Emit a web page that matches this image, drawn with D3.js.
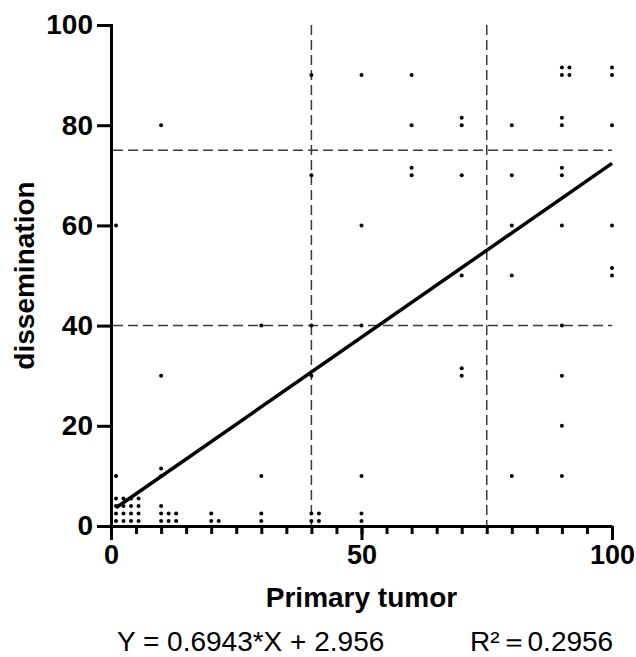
<!DOCTYPE html>
<html>
<head>
<meta charset="utf-8">
<script src="https://cdn.jsdelivr.net/npm/d3@7"></script>
<style>
  body { margin: 0; background: #fff; }
  svg { display: block; font-family: "Liberation Sans", Arial, sans-serif; }
</style>
</head>
<body>
<div id="chart"></div>
<script>
// paired values: primary tumor (%) vs dissemination (%)
const primaryTumor = [
  1, 2.5, 4, 5.5, 1, 2.5, 4, 5.5, 1, 2.5, 4, 5.5, 1, 2.5, 4, 5.5, 1, 1,
  10, 10, 10, 10, 10, 10, 10, 11.5, 11.5, 13, 13,
  20, 20, 21.5,
  30, 30, 30, 30,
  40, 40, 40, 40, 40, 40, 41.5, 41.5,
  50, 50, 50, 50, 50, 50,
  60, 60, 60, 60,
  70, 70, 70, 70, 70, 70,
  80, 80, 80, 80, 80,
  90, 90, 90, 90, 90, 90, 90, 90, 90, 90, 90, 91.5, 91.5,
  100, 100, 100, 100, 100, 100
];
const dissemination = [
  1, 1, 1, 1, 2.5, 2.5, 2.5, 2.5, 4, 4, 4, 4, 5.5, 5.5, 5.5, 5.5, 10, 60,
  1, 2.5, 4, 10, 11.5, 30, 80, 1, 2.5, 1, 2.5,
  1, 2.5, 1,
  1, 2.5, 10, 40,
  1, 2.5, 30, 40, 70, 90, 1, 2.5,
  1, 2.5, 10, 40, 60, 90,
  70, 71.5, 80, 90,
  30, 31.5, 50, 70, 80, 81.5,
  10, 50, 60, 70, 80,
  10, 20, 30, 40, 60, 70, 71.5, 80, 81.5, 90, 91.5, 90, 91.5,
  50, 51.5, 60, 80, 90, 91.5
];

// cut-off lines
const xCutoffs = [40, 75];
const yCutoffs = [40, 75];

// linear fit
const slope = 0.6943;
const intercept = 2.956;
const fitRange = [1, 100];
const rSquared = "0.2956";

const xMajorTicks = [0, 50, 100];
const xMinorTicks = d3.range(0, 101, 5);
const yTicks = [0, 20, 40, 60, 80, 100];

const width = 636;
const height = 657;
const marginLeft = 111;
const marginRight = 24;
const marginTop = 25;
const marginBottom = 131;

const svg = d3.select("#chart")
  .append("svg")
  .attr("width", width)
  .attr("height", height)
  .attr("viewBox", [0, 0, width, height]);

const x = d3.scaleLinear().domain([0, 100]).range([marginLeft, width - marginRight]);
const y = d3.scaleLinear().domain([0, 100]).range([height - marginBottom, marginTop]);

// dashed cut-off lines
svg.append("g")
  .selectAll("line")
  .data(xCutoffs)
  .join("line")
  .attr("x1", (d) => x(d))
  .attr("x2", (d) => x(d))
  .attr("y1", y(100))
  .attr("y2", y(0))
  .attr("stroke", "#3a3a3a")
  .attr("stroke-width", 1.5)
  .attr("stroke-dasharray", "10,5");

svg.append("g")
  .selectAll("line")
  .data(yCutoffs)
  .join("line")
  .attr("x1", x(0) + 2)
  .attr("x2", x(100))
  .attr("y1", (d) => y(d))
  .attr("y2", (d) => y(d))
  .attr("stroke", "#3a3a3a")
  .attr("stroke-width", 1.5)
  .attr("stroke-dasharray", "10,5");

// points
const points = primaryTumor.map((v, i) => [v, dissemination[i]]);

svg.append("g")
  .selectAll("circle")
  .data(points)
  .join("circle")
  .attr("cx", (d) => x(d[0]))
  .attr("cy", (d) => y(d[1]))
  .attr("r", 2)
  .attr("fill", "#000");

// regression line
svg.append("path")
  .datum(fitRange.map((v) => [v, slope * v + intercept]))
  .attr("d", d3.line().x((d) => x(d[0])).y((d) => y(d[1])))
  .attr("fill", "none")
  .attr("stroke", "#000")
  .attr("stroke-width", 3.5);

// x axis: minor then major ticks
const xAxisY = y(0);

svg.append("g")
  .attr("transform", `translate(0,${xAxisY})`)
  .call(d3.axisBottom(x).tickValues(xMinorTicks).tickSize(8).tickSizeOuter(0).tickFormat(""))
  .call((g) => g.selectAll("line").attr("stroke-width", 3))
  .call((g) => g.select(".domain").remove());

svg.append("g")
  .attr("transform", `translate(0,${xAxisY})`)
  .call(d3.axisBottom(x).tickValues(xMajorTicks).tickSize(14).tickSizeOuter(0).tickPadding(5).tickFormat(d3.format("d")))
  .call((g) => g.selectAll("line").attr("stroke-width", 3))
  .call((g) => g.select(".domain").attr("stroke-width", 3))
  .call((g) => g.selectAll("text")
    .attr("font-size", 27)
    .attr("font-weight", "bold")
    .attr("font-family", "Liberation Sans, Arial, sans-serif")
    .attr("fill", "#000"));

// y axis
svg.append("g")
  .attr("transform", `translate(${x(0)},0)`)
  .call(d3.axisLeft(y).tickValues(yTicks).tickSize(14).tickSizeOuter(0).tickPadding(4).tickFormat(d3.format("d")))
  .call((g) => g.selectAll("line").attr("stroke-width", 3))
  .call((g) => g.select(".domain").attr("stroke-width", 3).attr("stroke-linecap", "square"))
  .call((g) => g.selectAll("text")
    .attr("font-size", 28)
    .attr("font-weight", "bold")
    .attr("font-family", "Liberation Sans, Arial, sans-serif")
    .attr("fill", "#000"));

// axis titles
svg.append("text")
  .attr("x", x(50))
  .attr("y", 607)
  .attr("text-anchor", "middle")
  .attr("font-size", 28)
  .attr("font-weight", "bold")
  .text("Primary tumor");

svg.append("text")
  .attr("transform", `translate(34,${y(50)}) rotate(-90)`)
  .attr("text-anchor", "middle")
  .attr("font-size", 28)
  .attr("font-weight", "bold")
  .text("dissemination");

// fit equation
svg.append("text")
  .attr("x", 117)
  .attr("y", 651)
  .attr("font-size", 28)
  .text(`Y = ${slope}*X + ${intercept}`);

svg.append("text")
  .attr("x", 470)
  .attr("y", 651)
  .attr("font-size", 28)
  .text(`R²＝${rSquared}`);
</script>
</body>
</html>
